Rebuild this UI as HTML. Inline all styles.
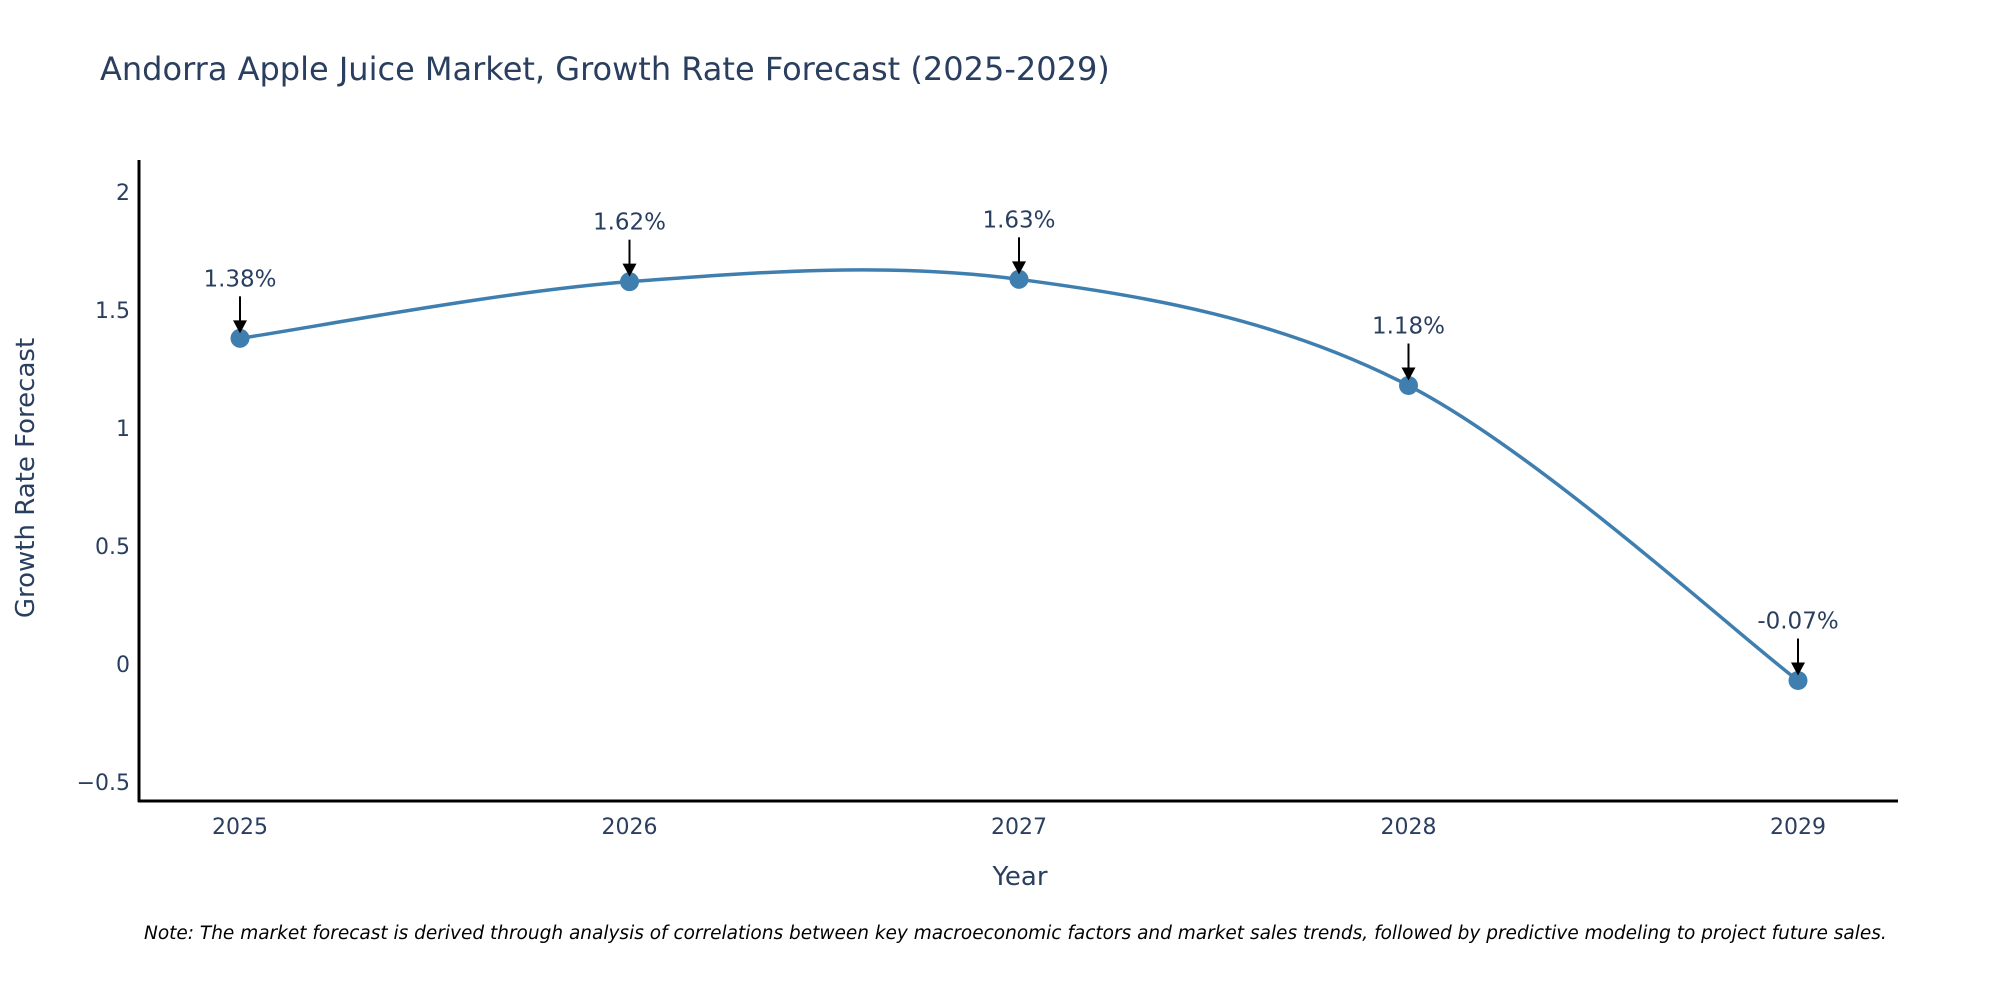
<!DOCTYPE html>
<html><head><meta charset="utf-8"><style>
html,body{margin:0;padding:0;background:#fff;overflow:hidden;}
svg{display:block;font-family:"DejaVu Sans","Liberation Sans",sans-serif;}
</style></head><body>
<svg id="chart" width="2000" height="1000" viewBox="0 0 2000 1000">
<text x="100" y="80" font-size="32" fill="#2a3f5f">Andorra Apple Juice Market, Growth Rate Forecast (2025-2029)</text>
<g id="yticks"></g>
<g id="xticks"></g>
<g id="series"></g>
<g id="annots"></g>
<line x1="139" y1="160" x2="139" y2="802" stroke="#000" stroke-width="3"/>
<line x1="138" y1="801" x2="1898" y2="801" stroke="#000" stroke-width="3"/>
<text x="0" y="0" transform="translate(34,478) rotate(-90)" text-anchor="middle" font-size="26" fill="#2a3f5f">Growth Rate Forecast</text>
<text x="1020" y="885" text-anchor="middle" font-size="26" fill="#2a3f5f">Year</text>
<text x="144" y="939" font-size="18.5" font-style="italic" fill="#000">Note: The market forecast is derived through analysis of correlations between key macroeconomic factors and market sales trends, followed by predictive modeling to project future sales.</text>
</svg>
<script>
const years = ["2025","2026","2027","2028","2029"];
const growthValues = [1.38, 1.62, 1.63, 1.18, -0.07];
const yTickValues = [-0.5, 0, 0.5, 1, 1.5, 2];
const yTickLabels = ["\u22120.5","0","0.5","1","1.5","2"];

const NS = "http://www.w3.org/2000/svg";
const x0 = 240, xStep = 389.5;
function xScale(i){ return x0 + i*xStep; }
function yScale(v){ return 664 - v*236; }
function mk(tag, attrs, parent){
  const e = document.createElementNS(NS, tag);
  for (const k in attrs) e.setAttribute(k, attrs[k]);
  parent.appendChild(e); return e;
}
const yt = document.getElementById('yticks');
yTickValues.forEach((v,i)=>{
  const t = mk('text',{x:130,y:yScale(v)+8,'text-anchor':'end','font-size':22,fill:'#2a3f5f'},yt);
  
  
  t.textContent = yTickLabels[i];
});
const xt = document.getElementById('xticks');
years.forEach((y,i)=>{
  const t = mk('text',{x:xScale(i),y:834,'text-anchor':'middle','font-size':22,fill:'#2a3f5f'},xt);
  
  
  t.textContent = y;
});
const pts = growthValues.map((v,i)=>[xScale(i), yScale(v)]);
let d = `M${pts[0][0]},${pts[0][1]}`;
for (let i=0;i<pts.length-1;i++){
  const p0 = pts[Math.max(0,i-1)], p1 = pts[i], p2 = pts[i+1], p3 = pts[Math.min(pts.length-1,i+2)];
  const c1 = [p1[0]+(p2[0]-p0[0])/6, p1[1]+(p2[1]-p0[1])/6];
  const c2 = [p2[0]-(p3[0]-p1[0])/6, p2[1]-(p3[1]-p1[1])/6];
  d += ` C${c1[0]},${c1[1]} ${c2[0]},${c2[1]} ${p2[0]},${p2[1]}`;
}
const s = document.getElementById('series');
const path = mk('path',{d:d,fill:'none',stroke:'#3f7fb0','stroke-width':3.5},s);


pts.forEach((p,i)=>{
  const c = mk('circle',{cx:p[0],cy:p[1],r:9.5,fill:'#3f7fb0'},s);
  
  
});
const a = document.getElementById('annots');
pts.forEach((p,i)=>{
  const ln = mk('line',{x1:p[0],y1:p[1]-42,x2:p[0],y2:p[1]-16,stroke:'#000','stroke-width':2},a);
  
  
  const hd = mk('polygon',{points:`${p[0]-7},${p[1]-18} ${p[0]+7},${p[1]-18} ${p[0]},${p[1]-5}`,fill:'#000'},a);
  
  
  const t = mk('text',{x:p[0],y:p[1]-52,'text-anchor':'middle','font-size':23,fill:'#2a3f5f'},a);
  
  
  t.textContent = growthValues[i].toFixed(2) + '%';
});
</script>
</body></html>
